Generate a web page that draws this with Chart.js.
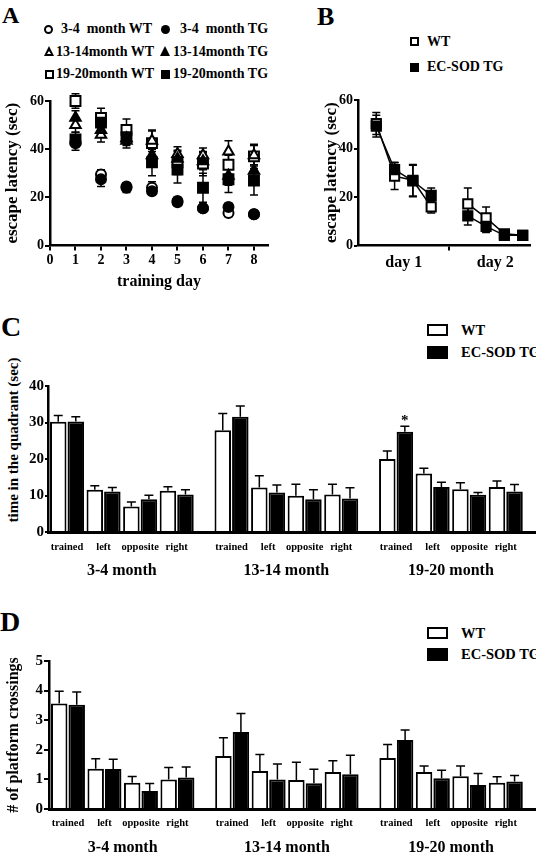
<!DOCTYPE html>
<html>
<head>
<meta charset="utf-8">
<script src="https://cdn.jsdelivr.net/npm/chart.js@4.4.1/dist/chart.umd.min.js"></script>
<style>
  body { margin: 0; background: #fff; width: 536px; height: 853px; position: relative; overflow: hidden;
         font-family: "Liberation Serif", serif; font-weight: bold; color: #000; }
  canvas { position: absolute; }
  .t { position: absolute; line-height: 1; white-space: pre; }
  .vt { transform: translate(-50%, -50%) rotate(-90deg); }
  .mk { position: absolute; box-sizing: border-box; background: #000; width: 9px; height: 9px; }
  .oc { border: 2px solid #000; border-radius: 50%; background: #fff; }
  .fc { border-radius: 50%; }
  .os { border: 2px solid #000; background: #fff; }
  .tri { width: 10px; height: 10px; clip-path: polygon(50% 0, 100% 100%, 0 100%); }
  .tri.open::after { content: ''; position: absolute; left: 3px; top: 5px; width: 4px; height: 3px; background: #fff;
                     clip-path: polygon(50% 0, 100% 100%, 0 100%); }
  .lb { position: absolute; box-sizing: border-box; width: 21px; height: 12px; border: 2px solid #000; background: #fff; }
  .lb.f { background: #000; height: 13px; }
</style>
</head>
<body>

<!-- panel letters -->
<div class="t" style="left:2px;top:3px;font-size:24px">A</div>
<div class="t" style="left:317px;top:4px;font-size:26px">B</div>
<div class="t" style="left:1px;top:313px;font-size:28px">C</div>
<div class="t" style="left:0px;top:608px;font-size:28px">D</div>

<!-- legend A -->
<div class="mk oc" style="left:44px;top:25px"></div><div class="t" style="left:61px;top:22px;font-size:14px">3-4  month WT</div>
<div class="mk fc" style="left:161px;top:25px"></div><div class="t" style="left:180px;top:22px;font-size:14px">3-4  month TG</div>
<div class="mk tri open" style="left:44px;top:46px"></div><div class="t" style="left:56px;top:45px;font-size:14px">13-14month WT</div>
<div class="mk tri" style="left:160px;top:46px"></div><div class="t" style="left:173px;top:45px;font-size:14px">13-14month TG</div>
<div class="mk os" style="left:45px;top:70px"></div><div class="t" style="left:56px;top:67px;font-size:14px">19-20month WT</div>
<div class="mk" style="left:161px;top:70px"></div><div class="t" style="left:173px;top:67px;font-size:14px">19-20month TG</div>

<!-- legend B -->
<div class="mk os" style="left:410px;top:37px"></div><div class="t" style="left:427px;top:35px;font-size:14px">WT</div>
<div class="mk" style="left:410px;top:63px"></div><div class="t" style="left:427px;top:60px;font-size:14px">EC-SOD TG</div>

<!-- legend C -->
<div class="lb" style="left:427px;top:324px"></div><div class="t" style="left:461px;top:323px;font-size:14.5px">WT</div>
<div class="lb f" style="left:427px;top:346px"></div><div class="t" style="left:461px;top:345px;font-size:14.5px">EC-SOD TG</div>

<!-- legend D -->
<div class="lb" style="left:427px;top:627px"></div><div class="t" style="left:461px;top:626px;font-size:14.5px">WT</div>
<div class="lb f" style="left:427px;top:648px"></div><div class="t" style="left:461px;top:647px;font-size:14.5px">EC-SOD TG</div>

<!-- C y title sits above the axis centre in the original -->
<div class="t vt" style="left:13px;top:440px;font-size:15px">time in the quadrant (sec)</div>

<canvas id="cA" width="272" height="206" style="left:0;top:88px"></canvas>
<canvas id="cB" width="236" height="206" style="left:300px;top:88px"></canvas>
<canvas id="cC" width="536" height="285" style="left:0;top:300px"></canvas>
<canvas id="cD" width="536" height="263" style="left:0;top:590px"></canvas>

<script>
// ---- data ----
// A: escape latency by training day
var days = [1, 2, 3, 4, 5, 6, 7, 8];
var wt34   = [43, 29.5, 24.5, 24, 18, 15.5, 13.5, 13];
var tg34   = [42.5, 27.5, 24, 22.5, 18.5, 15.5, 16, 13];
var wt1314 = [50, 46, 43.5, 43.5, 38, 37.5, 39, 37.5];
var tg1314 = [53, 48, 44.5, 37.5, 36, 35, 29, 31];
var wt1920 = [60, 53, 48, 42.5, 34.5, 34, 33.5, 37];
var tg1920 = [44, 51, 45, 34.5, 31.5, 24, 27.5, 27];
var errWt34   = [2, 2, 1.5, 2.5, 1.5, 1.5, 1.5, 1.5];
var errTg34   = [3, 3, 2, 1.5, 1.5, 1.5, 1.5, 1];
var errWt1314 = [3, 3, 3, 4.5, 3, 3, 4.5, 4];
var errTg1314 = [3, 3, 3, 4, 3, 3.5, 4, 4];
var errWt1920 = [3, 4, 4.5, 5, 5, 5, 4, 5];
var errTg1920 = [3, 4, 3, 5.5, 5.5, 6, 5.5, 6];

// B: escape latency per trial, 4 trials on each of 2 days
var trialDays = ['day 1', 'day 2'];
var trialsPerDay = 4;
var bWT    = [50.3, 28.6, 26.9, 15.9, 17.2, 11.4, 4.8, 4.2];
var bTG    = [49.2, 31.3, 26.6, 20.7, 12.2, 7.9, 4.2, 4.2];
var bErrWT = [4.5, 5.5, 6.5, 2.5, 6.5, 4.5, 1, 0.8];
var bErrTG = [4.5, 3, 6.5, 3, 3.7, 2.5, 0.8, 0.8];

// C and D: probe trial, by age group and quadrant
var ageGroups = ['3-4 month', '13-14 month', '19-20 month'];
var quadrants = ['trained', 'left', 'opposite', 'right'];
var cWT    = [30.2, 11.6, 7.0, 11.3, 27.9, 12.2, 9.9, 10.3, 20.0, 16.0, 11.7, 12.3];
var cWTerr = [1.7, 1.1, 1.2, 1.1, 4.6, 3.2, 3.2, 2.8, 2.2, 1.5, 1.8, 1.7];
var cTG    = [30.3, 11.1, 9.0, 10.3, 31.6, 10.8, 9.0, 9.2, 27.5, 12.3, 10.2, 11.1];
var cTGerr = [1.3, 1.1, 1.1, 1.3, 2.9, 2.1, 2.6, 2.9, 1.5, 1.3, 0.6, 1.9];
var cTGsig = [0, 0, 0, 0, 0, 0, 0, 0, 1, 0, 0, 0];
var dWT    = [3.56, 1.36, 0.89, 1.0, 1.79, 1.28, 0.98, 1.25, 1.72, 1.25, 1.11, 0.89];
var dWTerr = [0.42, 0.34, 0.21, 0.4, 0.62, 0.56, 0.6, 0.38, 0.46, 0.2, 0.34, 0.2];
var dTG    = [3.52, 1.35, 0.61, 1.06, 2.6, 1.0, 0.87, 1.17, 2.33, 1.04, 0.81, 0.93];
var dTGerr = [0.43, 0.33, 0.25, 0.36, 0.63, 0.52, 0.47, 0.65, 0.34, 0.27, 0.39, 0.2];

// ---- setup ----
Chart.defaults.font.family = "'Liberation Serif', serif";
Chart.defaults.font.weight = 'bold';
Chart.defaults.color = '#000';
Chart.defaults.animation = false;

var groupStep = 4.5;  // gap between age groups, in bar-pair units
function barPos(i) { return Math.floor(i / quadrants.length) * groupStep + i % quadrants.length; }

// error bars drawn from dataset.errors; one-sided (up) for bars
var errorBars = {
  id: 'errorBars',
  draw: function (chart, opts) {
    var ctx = chart.ctx;
    ctx.save();
    ctx.strokeStyle = '#000';
    ctx.lineWidth = 1.5;
    chart.data.datasets.forEach(function (ds, di) {
      var meta = chart.getDatasetMeta(di);
      var ys = chart.scales[meta.yAxisID];
      (ds.errors || []).forEach(function (e, i) {
        var pt = ds.data[i], el = meta.data[i];
        if (e == null || pt == null || pt.y == null) return;
        var x = el.x, cap = opts.cap;
        var top = ys.getPixelForValue(pt.y + e);
        var bot = ys.getPixelForValue(opts.twoSided ? pt.y - e : pt.y);
        ctx.beginPath();
        ctx.moveTo(x, top); ctx.lineTo(x, bot);
        ctx.moveTo(x - cap, top); ctx.lineTo(x + cap, top);
        if (opts.twoSided) { ctx.moveTo(x - cap, bot); ctx.lineTo(x + cap, bot); }
        ctx.stroke();
        if (ds.sig && ds.sig[i]) {
          ctx.fillStyle = '#000';
          ctx.font = "bold 15px 'Liberation Serif'";
          ctx.textAlign = 'center';
          ctx.textBaseline = 'alphabetic';
          ctx.fillText('*', x, top - 1);
        }
      });
    });
    ctx.restore();
  },
  beforeDatasetsDraw: function (chart, args, opts) { if (opts.twoSided) this.draw(chart, opts); },
  afterDatasetsDraw: function (chart, args, opts) { if (!opts.twoSided) this.draw(chart, opts); }
};

function pts(xs, ys) { return ys.map(function (v, i) { return { x: xs[i], y: v }; }); }

function marker(label, ys, errs, style, filled, r) {
  return {
    label: label, data: pts(days, ys), errors: errs, clip: false, showLine: false,
    pointStyle: style, pointRadius: r, pointBorderWidth: 2, pointBorderColor: '#000',
    pointBackgroundColor: filled ? '#000' : '#fff'
  };
}

// lineWidth 0 keeps bars sitting right on the axis; tick marks use tickWidth
function yAxis(max, step, width, tickSize, titleText, titleSize, titlePad, tickLen) {
  return {
    min: 0, max: max,
    ticks: { stepSize: step, padding: 1, font: { size: tickSize } },
    grid: { drawOnChartArea: false, color: '#000', tickColor: '#000', tickLength: tickLen, lineWidth: 0, tickWidth: 2 },
    border: { color: '#000', width: 2.5, z: 1 },
    title: { display: !!titleText, text: titleText, font: { size: titleSize, weight: 'bold' }, padding: { top: titlePad, bottom: 0 } },
    afterFit: function (s) { s.width = width; }
  };
}

// ---- A ----
new Chart(document.getElementById('cA'), {
  type: 'scatter',
  data: {
    datasets: [
      marker('3-4 month TG', tg34, errTg34, 'circle', true, 5),
      marker('13-14month TG', tg1314, errTg1314, 'triangle', true, 6),
      marker('19-20month TG', tg1920, errTg1920, 'rect', true, 7),
      marker('3-4 month WT', wt34, errWt34, 'circle', false, 5),
      marker('13-14month WT', wt1314, errWt1314, 'triangle', false, 6),
      marker('19-20month WT', wt1920, errWt1920, 'rect', false, 7)
    ]
  },
  plugins: [errorBars],
  options: {
    responsive: false,
    layout: { autoPadding: false, padding: { top: 13, right: 4, left: 0, bottom: 0 } },
    plugins: { legend: { display: false }, tooltip: { enabled: false }, errorBars: { twoSided: true, cap: 4 } },
    scales: {
      x: {
        type: 'linear', min: 0, max: 8.55,
        ticks: { stepSize: 1, includeBounds: false, padding: 1, font: { size: 14 } },
        grid: { drawOnChartArea: false, color: '#000', tickLength: 5, lineWidth: 2 },
        border: { color: '#000', width: 2.5 },
        title: { display: true, text: 'training day', font: { size: 16, weight: 'bold' }, padding: { top: 0, bottom: 2.4 } },
        afterFit: function (s) { s.height = 48.5; }
      },
      y: yAxis(60, 20, 50, 14, 'escape latency (sec)', 17, 2.3, 5)
    }
  }
});

// ---- B ----
function trialX(i) { return Math.floor(i / trialsPerDay) * (trialsPerDay + 1) + i % trialsPerDay + 1; }
function trialSeries(ys) {
  var out = [];
  ys.forEach(function (v, i) {
    if (i > 0 && i % trialsPerDay === 0) out.push({ x: trialX(i) - 1, y: null });
    out.push({ x: trialX(i), y: v });
  });
  return out;
}
function trialErrs(es) {
  var out = [];
  es.forEach(function (e, i) {
    if (i > 0 && i % trialsPerDay === 0) out.push(null);
    out.push(e);
  });
  return out;
}
var dayCenters = trialDays.map(function (d, k) { return k * (trialsPerDay + 1) + (trialsPerDay + 1) / 2; });
var daySplit = trialsPerDay + 1;

new Chart(document.getElementById('cB'), {
  type: 'scatter',
  data: {
    datasets: [
      { label: 'EC-SOD TG', data: trialSeries(bTG), errors: trialErrs(bErrTG), showLine: true, spanGaps: false, clip: false,
        borderColor: '#000', borderWidth: 1.5, pointStyle: 'rect', pointRadius: 6.5, pointBorderWidth: 2,
        pointBorderColor: '#000', pointBackgroundColor: '#000' },
      { label: 'WT', data: trialSeries(bWT), errors: trialErrs(bErrWT), showLine: true, spanGaps: false, clip: false,
        borderColor: '#000', borderWidth: 1.5, pointStyle: 'rect', pointRadius: 6.5, pointBorderWidth: 2,
        pointBorderColor: '#000', pointBackgroundColor: '#fff' }
    ]
  },
  plugins: [errorBars],
  options: {
    responsive: false,
    layout: { autoPadding: false, padding: { top: 12, right: 6, left: 0, bottom: 0 } },
    plugins: { legend: { display: false }, tooltip: { enabled: false }, errorBars: { twoSided: true, cap: 4 } },
    scales: {
      x: {
        type: 'linear', min: 0, max: 9.4,
        afterBuildTicks: function (s) {
          s.ticks = [{ value: dayCenters[0] }, { value: daySplit }, { value: dayCenters[1] }];
        },
        ticks: {
          padding: 3, font: { size: 16 }, autoSkip: false, maxRotation: 0,
          callback: function (v) { var k = dayCenters.indexOf(v); return k < 0 ? '' : trialDays[k]; }
        },
        grid: {
          drawOnChartArea: false, tickLength: 5, lineWidth: 2,
          tickColor: function (c) { return c.tick && c.tick.value === daySplit ? '#000' : 'rgba(0,0,0,0)'; }
        },
        border: { color: '#000', width: 2.5 },
        afterFit: function (s) { s.height = 48.5; }
      },
      y: yAxis(60, 20, 58, 14, 'escape latency (sec)', 17, 21.8, 4)
    }
  }
});

// ---- C and D ----
function barChart(id, wt, wtErr, tg, tgErr, tgSig, o) {
  var xs = wt.map(function (v, i) { return barPos(i); });
  var last = barPos(wt.length - 1);
  // bars start a hair below zero so they tuck under the axis line
  var base = -o.max * 0.014;
  return new Chart(document.getElementById(id), {
    type: 'bar',
    data: {
      datasets: [
        { label: 'WT', data: pts(xs, wt), errors: wtErr, xAxisID: 'x', yAxisID: 'y', base: base,
          backgroundColor: '#fff', borderColor: '#000', borderWidth: 2, borderSkipped: false,
          categoryPercentage: 0.96, barPercentage: 0.94 },
        { label: 'EC-SOD TG', data: pts(xs, tg), errors: tgErr, sig: tgSig, xAxisID: 'x', yAxisID: 'y', base: base,
          backgroundColor: '#000', borderColor: '#000', borderWidth: 2, borderSkipped: false,
          categoryPercentage: 0.96, barPercentage: 0.94 }
      ]
    },
    plugins: [errorBars],
    options: {
      responsive: false,
      layout: { autoPadding: false, padding: { top: o.top, right: 1, left: 0, bottom: 0 } },
      plugins: { legend: { display: false }, tooltip: { enabled: false }, errorBars: { twoSided: false, cap: 4.5 } },
      scales: {
        x: {
          type: 'linear', min: -0.52, max: last + 0.8, offset: false, weight: 0,
          afterBuildTicks: function (s) { s.ticks = xs.map(function (v) { return { value: v }; }); },
          ticks: {
            autoSkip: false, maxRotation: 0, padding: o.qPad, font: { size: 10.5 },
            callback: function (v, i) { return quadrants[i % quadrants.length]; }
          },
          grid: { display: false, drawTicks: false, offset: false },
          border: { color: '#000', width: 3, z: 1 },
          afterFit: function (s) { s.height = o.qH; }
        },
        xg: {
          type: 'linear', position: 'bottom', weight: 1, min: -0.52, max: last + 0.8, offset: false,
          afterBuildTicks: function (s) {
            s.ticks = ageGroups.map(function (g, k) { return { value: k * groupStep + (quadrants.length - 1) / 2 }; });
          },
          ticks: {
            autoSkip: false, maxRotation: 0, padding: o.gPad, font: { size: 16 },
            callback: function (v, i) { return ageGroups[i]; }
          },
          grid: { display: false, drawTicks: false },
          border: { display: false },
          afterFit: function (s) { s.height = o.gH; }
        },
        y: yAxis(o.max, o.step, o.yW, 15, o.title, o.titleSize, 4, o.tickLen)
      }
    }
  });
}

barChart('cC', cWT, cWTerr, cTG, cTGerr, cTGsig,
  { top: 86, qPad: 8.5, qH: 24, gPad: 5, gH: 29, max: 40, step: 10, yW: 48, title: '', titleSize: 15, tickLen: 3 });
barChart('cD', dWT, dWTerr, dTG, dTGerr, null,
  { top: 71, qPad: 7.5, qH: 22, gPad: 7, gH: 22, max: 5, step: 1, yW: 49, title: '# of platform crossings', titleSize: 16, tickLen: 5 });
</script>
</body>
</html>
